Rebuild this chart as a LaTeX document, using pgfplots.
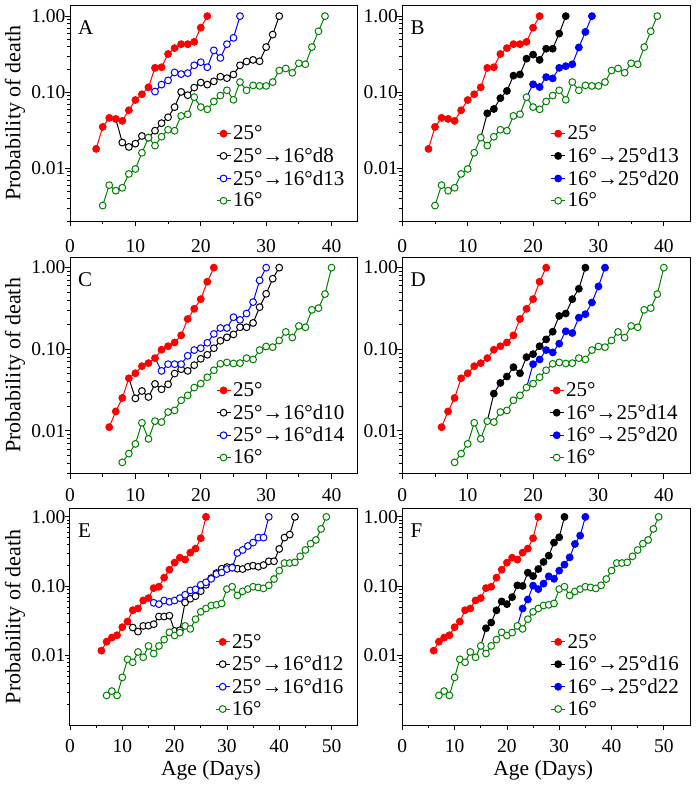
\documentclass[border=0pt]{standalone}
\usepackage{fontspec}
\setmainfont{Liberation Serif}
\usepackage{pgfplots}
\usepackage{pgfplotstable}
\pgfplotsset{compat=1.18}

\definecolor{dgreen}{RGB}{0,128,0}
\definecolor{mblue}{RGB}{0,0,255}
\definecolor{mred}{RGB}{255,0,0}

% ---------------- data ----------------
\pgfplotstableread{
d p
4 0.018
5 0.035
6 0.046
7 0.0446
8 0.042
9 0.058
10 0.079
11 0.094
12 0.116
13 0.209
14 0.213
15 0.318
16 0.380
17 0.428
18 0.428
19 0.459
20 0.705
21 1.0
}\redA
\pgfplotstableread{
d p
5 0.00324
6 0.00601
7 0.00508
8 0.00555
9 0.00844
10 0.0098
11 0.0160
12 0.0253
13 0.0199
14 0.0260
15 0.0321
16 0.0312
17 0.0488
18 0.0513
19 0.0861
20 0.0638
21 0.0596
22 0.0756
23 0.0905
24 0.106
25 0.0795
26 0.136
27 0.106
28 0.123
29 0.121
30 0.121
31 0.136
32 0.193
33 0.205
34 0.180
35 0.240
36 0.233
37 0.392
38 0.632
39 1.0
}\greenA
\pgfplotstableread{
d p
7 0.0446
8 0.0218
9 0.0191
10 0.0211
11 0.0266
12 0.0253
13 0.0312
14 0.0392
15 0.0469
16 0.0638
17 0.101
18 0.0914
19 0.115
20 0.134
21 0.126
22 0.139
23 0.160
24 0.153
25 0.171
26 0.226
27 0.253
28 0.266
29 0.255
30 0.392
31 0.572
32 1.0
}\blackA
\pgfplotstableread{
d p
12 0.116
13 0.102
14 0.126
15 0.143
16 0.182
17 0.173
18 0.178
19 0.226
20 0.248
21 0.213
22 0.355
23 0.282
24 0.428
25 0.518
26 1.0
}\blueA
\pgfplotstableread{
d p
12 0.0253
13 0.0528
14 0.0602
15 0.0836
16 0.104
17 0.165
18 0.171
19 0.276
20 0.312
21 0.266
22 0.373
23 0.373
24 0.590
25 1.0
}\blackB
\pgfplotstableread{
d p
19 0.0861
20 0.127
21 0.117
22 0.158
23 0.152
24 0.209
25 0.220
26 0.233
27 0.388
28 0.620
29 1.0
}\blueB
\pgfplotstableread{
d p
6 0.0111
7 0.0173
8 0.0253
9 0.0441
10 0.0508
11 0.0620
12 0.0676
13 0.0778
14 0.0986
15 0.109
16 0.121
17 0.148
18 0.235
19 0.313
20 0.411
21 0.672
22 1.0
}\redC
\pgfplotstableread{
d p
8 0.00411
9 0.00526
10 0.00692
11 0.01256
12 0.00797
13 0.01315
14 0.0128
15 0.0170
16 0.0178
17 0.0237
18 0.0272
19 0.0339
20 0.0379
21 0.0454
22 0.0553
23 0.0663
24 0.0689
25 0.0669
26 0.0676
27 0.0778
28 0.0750
29 0.0977
30 0.108
31 0.106
32 0.128
33 0.163
34 0.139
35 0.193
36 0.186
37 0.304
38 0.319
39 0.474
40 1.0
}\greenC
\pgfplotstableread{
d p
9 0.0441
10 0.0250
11 0.0308
12 0.0260
13 0.0376
14 0.0323
15 0.0372
16 0.0504
17 0.0570
18 0.0543
19 0.0638
20 0.0764
21 0.0856
22 0.103
23 0.127
24 0.140
25 0.152
26 0.186
27 0.186
28 0.210
29 0.328
30 0.478
31 0.732
32 1.0
}\blackC
\pgfplotstableread{
d p
13 0.0778
14 0.0543
15 0.0656
16 0.0656
17 0.0656
18 0.0832
19 0.0977
20 0.103
21 0.120
22 0.154
23 0.182
24 0.182
25 0.247
26 0.229
27 0.274
28 0.378
29 0.698
30 1.0
}\blueC
\pgfplotstableread{
d p
13 0.01315
14 0.0286
15 0.0387
16 0.0463
17 0.0603
18 0.0508
19 0.080
20 0.0871
21 0.109
22 0.132
23 0.164
24 0.256
25 0.274
26 0.411
27 0.551
28 1.0
}\blackD
\pgfplotstableread{
d p
19 0.0339
20 0.0656
21 0.0750
22 0.0977
23 0.0914
24 0.117
25 0.166
26 0.158
27 0.244
28 0.269
29 0.374
30 0.589
31 1.0
}\blueD
\pgfplotstableread{
d p
6 0.0118
7 0.0159
8 0.0182
9 0.0197
10 0.0257
11 0.0310
12 0.0452
13 0.0478
14 0.0624
15 0.0675
16 0.0940
17 0.0984
18 0.133
19 0.173
20 0.219
21 0.258
22 0.242
23 0.305
24 0.349
25 0.492
26 1.0
}\redE
\pgfplotstableread{
d p
7 0.00267
8 0.00308
9 0.00267
10 0.00486
11 0.00885
12 0.00801
13 0.0113
14 0.00946
15 0.0138
16 0.0107
17 0.0138
18 0.0170
19 0.0217
20 0.0195
21 0.0215
22 0.0268
23 0.0243
24 0.0335
25 0.0428
26 0.0478
27 0.0528
28 0.0540
29 0.0565
30 0.0910
31 0.0984
32 0.0737
33 0.0842
34 0.0910
35 0.0984
36 0.0962
37 0.0931
38 0.103
39 0.127
40 0.168
41 0.216
42 0.216
43 0.221
44 0.270
45 0.333
46 0.411
47 0.465
48 0.671
49 1.0
}\greenE
\pgfplotstableread{
d p
11 0.0310
12 0.0254
13 0.0222
14 0.0268
15 0.0270
16 0.0284
17 0.0366
18 0.0366
19 0.0377
20 0.0227
21 0.0232
22 0.0584
23 0.0660
24 0.0720
25 0.0850
26 0.105
27 0.131
28 0.155
29 0.179
30 0.189
31 0.187
32 0.179
33 0.177
34 0.191
35 0.198
36 0.191
37 0.202
38 0.229
39 0.229
40 0.345
41 0.503
42 0.556
43 1.0
}\blackE
\pgfplotstableread{
d p
15 0.0675
16 0.0577
17 0.0552
18 0.0624
19 0.0597
20 0.0624
21 0.0675
22 0.0754
23 0.0871
24 0.0900
25 0.105
26 0.114
27 0.128
28 0.150
29 0.158
30 0.177
31 0.185
32 0.302
33 0.333
34 0.381
35 0.426
36 0.503
37 0.503
38 1.0
}\blueE
\pgfplotstableread{
d p
15 0.0138
16 0.0248
17 0.0300
18 0.0450
19 0.0604
20 0.0552
21 0.0697
22 0.103
23 0.101
24 0.157
25 0.140
26 0.177
27 0.224
28 0.276
29 0.426
30 0.508
31 1.0
}\blackF
\pgfplotstableread{
d p
22 0.0268
23 0.0478
24 0.0645
25 0.102
26 0.0910
27 0.109
28 0.139
29 0.128
30 0.168
31 0.205
32 0.261
33 0.407
34 0.537
35 1.0
}\blueF

\pgfplotsset{
  every axis/.append style={
    scale only axis, width=287.7pt, height=216.5pt,
    anchor=north west, xmin=0,
    axis line style={line width=1pt},
    tick align=outside, xtick pos=left, ytick pos=left,
    major tick length=5pt, minor tick length=3pt,
    tick style={black, line width=0.8pt},
    minor x tick num=1,
    ytick={0.01,0.1,1}, yticklabels={0.01,0.10,1.00},
    minor ytick={0.002,0.003,0.004,0.005,0.006,0.007,0.008,0.009,
                 0.02,0.03,0.04,0.05,0.06,0.07,0.08,0.09,
                 0.2,0.3,0.4,0.5,0.6,0.7,0.8,0.9},
    /pgf/number format/assume math mode=true,
    tick label style={font=\fontsize{19.5}{23}\selectfont},
    xticklabel style={yshift=-6.5pt},
    yticklabel style={xshift=4pt},
    every axis y label/.style={at={(axis description cs:-0.191,0.5)}, rotate=90, anchor=center,
      font=\fontsize{22}{26}\selectfont},
    every axis x label/.style={at={(axis description cs:0.49,-0.21)}, anchor=center,
      font=\fontsize{21.5}{25}\selectfont},
    legend style={draw=none, fill=none, font=\fontsize{21}{24}\selectfont,
      row sep=2.5pt, inner sep=0pt, at={(0.507,0.05)}, anchor=south west,
      cells={anchor=west}},
    legend cell align=left,
    legend image code/.code={\draw[mark repeat=2,mark phase=2] plot coordinates {(0pt,0pt) (7pt,0pt) (14pt,0pt)};},
  },
}
\tikzset{
  serX/.style={line width=1pt, mark=*, mark size=3.4pt},
  sRed/.style={serX, color=mred, mark options={solid, fill=mred}},
  sGreen/.style={serX, color=dgreen, mark options={solid, fill=white}},
  sBlackO/.style={serX, color=black, mark options={solid, fill=white}, mark phase=2, mark repeat=1},
  sBlackF/.style={serX, color=black, mark options={solid, fill=black}, mark phase=2, mark repeat=1},
  sBlueO/.style={serX, color=mblue, mark options={solid, fill=white}, mark phase=2, mark repeat=1},
  sBlueF/.style={serX, color=mblue, mark options={solid, fill=mblue}, mark phase=2, mark repeat=1},
  pLetter/.style={anchor=north west, inner sep=0pt, xshift=8pt, yshift=-15.5pt, font=\fontsize{21}{24}\selectfont},
}

\begin{document}
\begin{tikzpicture}[font=\fontsize{21}{24}\selectfont]
\useasboundingbox (0pt,0pt) rectangle (699pt,-785pt);

% ---- A ----
\begin{semilogyaxis}[at={(70pt,-5pt)}, xmax=44, xtick={0,10,20,30,40}, ymin=0.002, ymax=1.4, ylabel={Probability of death},
  xticklabel style={yshift=-3.5pt}]
\addplot[sRed] table[x=d,y=p] {\redA};
\addplot[sBlackO] table[x=d,y=p] {\blackA};
\addplot[sBlueO] table[x=d,y=p] {\blueA};
\addplot[sGreen] table[x=d,y=p] {\greenA};
\legend{25°, 25°→16°d8, 25°→16°d13, 16°}
\node[pLetter] at (rel axis cs:0,1) {A};
\end{semilogyaxis}

% ---- B ----
\begin{semilogyaxis}[at={(402.3pt,-5pt)}, xmax=44, xtick={0,10,20,30,40}, ymin=0.002, ymax=1.4,
  xticklabel style={yshift=-3.5pt}, legend style={at={(0.515,0.05)}}]
\addplot[sRed] table[x=d,y=p] {\redA};
\addplot[sBlackF] table[x=d,y=p] {\blackB};
\addplot[sBlueF] table[x=d,y=p] {\blueB};
\addplot[sGreen] table[x=d,y=p] {\greenA};
\legend{25°, 16°→25°d13, 16°→25°d20, 16°}
\node[pLetter] at (rel axis cs:0,1) {B};
\end{semilogyaxis}

% ---- C ----
\begin{semilogyaxis}[at={(70pt,-257pt)}, xmax=44, xtick={0,10,20,30,40}, ymin=0.003, ymax=1.35, ylabel={Probability of death},
  legend style={at={(0.507,0.028)}}]
\addplot[sRed] table[x=d,y=p] {\redC};
\addplot[sBlackO] table[x=d,y=p] {\blackC};
\addplot[sBlueO] table[x=d,y=p] {\blueC};
\addplot[sGreen] table[x=d,y=p] {\greenC};
\legend{25°, 25°→16°d10, 25°→16°d14, 16°}
\node[pLetter] at (rel axis cs:0,1) {C};
\end{semilogyaxis}

% ---- D ----
\begin{semilogyaxis}[at={(402.3pt,-257pt)}, xmax=44, xtick={0,10,20,30,40}, ymin=0.003, ymax=1.35,
  legend style={at={(0.51,0.028)}}]
\addplot[sRed] table[x=d,y=p] {\redC};
\addplot[sBlackF] table[x=d,y=p] {\blackD};
\addplot[sBlueF] table[x=d,y=p] {\blueD};
\addplot[sGreen] table[x=d,y=p] {\greenC};
\legend{25°, 16°→25°d14, 16°→25°d20, 16°}
\node[pLetter] at (rel axis cs:0,1) {D};
\end{semilogyaxis}

% ---- E ----
\begin{semilogyaxis}[at={(70pt,-508.5pt)}, xmax=55, xtick={0,10,20,30,40,50}, ymin=0.001, ymax=1.32, ylabel={Probability of death}, xlabel={Age (Days)},
  legend style={at={(0.504,0.028)}}]
\addplot[sRed] table[x=d,y=p] {\redE};
\addplot[sBlackO] table[x=d,y=p] {\blackE};
\addplot[sBlueO] table[x=d,y=p] {\blueE};
\addplot[sGreen] table[x=d,y=p] {\greenE};
\legend{25°, 25°→16°d12, 25°→16°d16, 16°}
\node[pLetter] at (rel axis cs:0,1) {E};
\end{semilogyaxis}

% ---- F ----
\begin{semilogyaxis}[at={(402.3pt,-508.5pt)}, xmax=55, xtick={0,10,20,30,40,50}, ymin=0.001, ymax=1.32, xlabel={Age (Days)},
  legend style={at={(0.515,0.028)}}]
\addplot[sRed] table[x=d,y=p] {\redE};
\addplot[sBlackF] table[x=d,y=p] {\blackF};
\addplot[sBlueF] table[x=d,y=p] {\blueF};
\addplot[sGreen] table[x=d,y=p] {\greenE};
\legend{25°, 16°→25°d16, 16°→25°d22, 16°}
\node[pLetter] at (rel axis cs:0,1) {F};
\end{semilogyaxis}
\end{tikzpicture}
\end{document}
